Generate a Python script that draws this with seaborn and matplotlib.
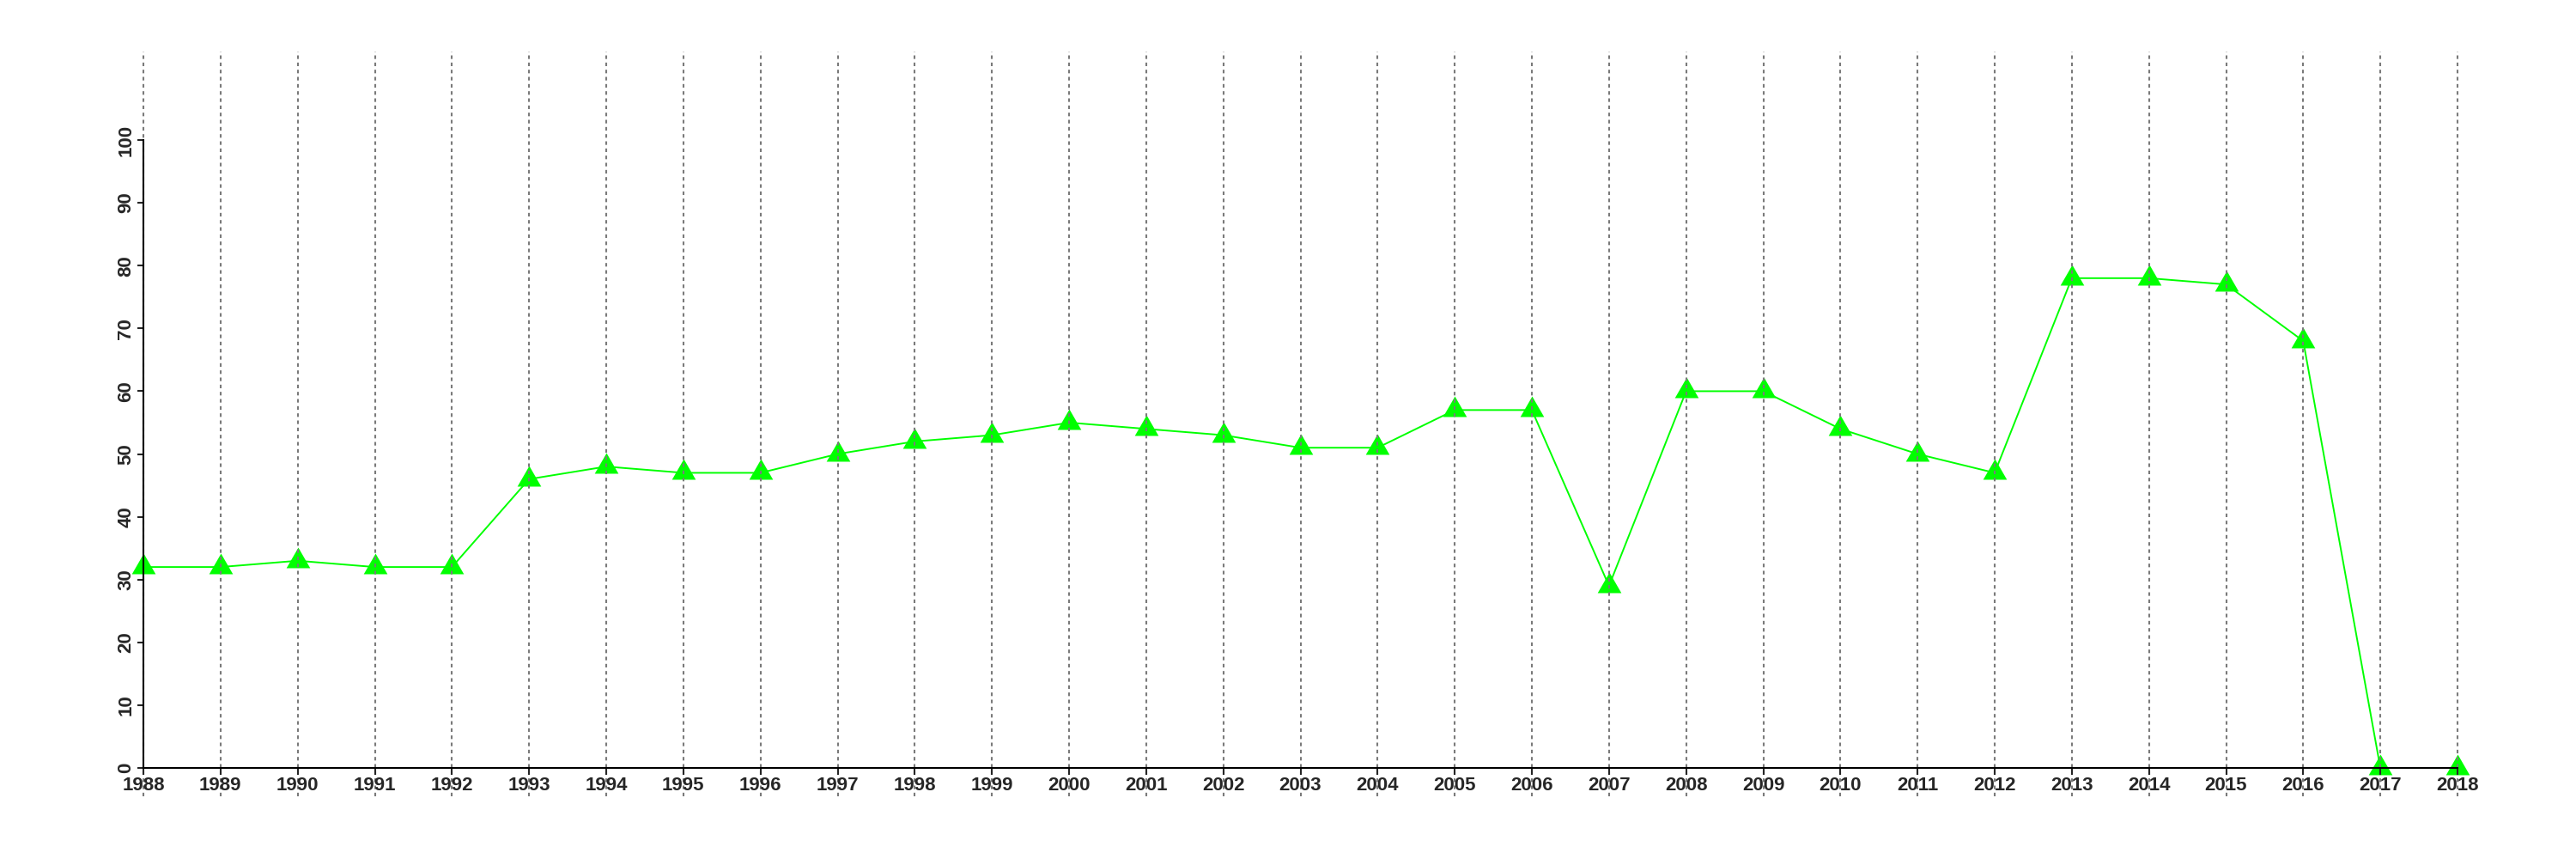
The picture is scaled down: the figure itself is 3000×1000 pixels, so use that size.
import matplotlib
matplotlib.use("Agg")
import matplotlib.pyplot as plt
import seaborn as sns
import pandas as pd
import numpy as np

years = list(range(1988, 2019))
values = [32, 32, 33, 32, 32, 46, 48, 47, 47, 50, 52, 53, 55, 54, 53, 51, 51,
          57, 57, 29, 60, 60, 54, 50, 47, 78, 78, 77, 68, 0, 0]
yticks = list(range(0, 101, 10))

sns.set_style("white")
plt.rcParams['font.family'] = ['Liberation Sans', 'DejaVu Sans']

df = pd.DataFrame({"year": years, "value": values})

px_year = (2862 - 167) / 30.0
left_px = 167 - 0.5 * px_year
right_px = 2862 + 0.5 * px_year

fig = plt.figure(figsize=(30, 10), dpi=100)
ax = fig.add_axes([left_px/3000, 0.073, (right_px-left_px)/3000, 0.867])

h = np.sqrt(3)/2
tri = [(0, 2*h/3), (-0.5, -h/3), (0.5, -h/3), (0, 2*h/3)]

sns.lineplot(data=df, x="year", y="value", ax=ax, color="#00ff00",
             linewidth=1.4, marker=tri, markersize=23, markeredgewidth=0,
             markerfacecolor="#00ff00", clip_on=False)

ax.set_xlim(1987.5, 2018.5)
ax.set_ylim(-4.51, 114.09)
ax.set_xticks(years)
ax.set_yticks(yticks)
ax.set_xlabel("")
ax.set_ylabel("")

ax.set_axisbelow(False)
ax.grid(axis="x", color="#7a7a7a", linestyle=(0, (2, 2)), linewidth=1.5)
ax.grid(axis="y", visible=False)

for s in ["top", "right"]:
    ax.spines[s].set_visible(False)
ax.spines["left"].set_position(("data", 1988))
ax.spines["left"].set_bounds(0, 100)
ax.spines["bottom"].set_position(("data", 0))
ax.spines["bottom"].set_bounds(1988, 2018)
for s in ["left", "bottom"]:
    ax.spines[s].set_linewidth(1.5)
    ax.spines[s].set_color("black")
    ax.spines[s].set_zorder(3)

ax.tick_params(axis="x", direction="out", length=6, width=1.5, pad=1,
               labelsize=16, bottom=True)
ax.tick_params(axis="y", direction="out", length=5, width=1.5, pad=2,
               labelsize=16, left=True)
for lab in ax.get_xticklabels():
    lab.set_fontweight("bold")
for lab in ax.get_yticklabels():
    lab.set_fontweight("bold")
    lab.set_rotation(90)
    lab.set_va("center")

fig.savefig("out.png", dpi=100)
